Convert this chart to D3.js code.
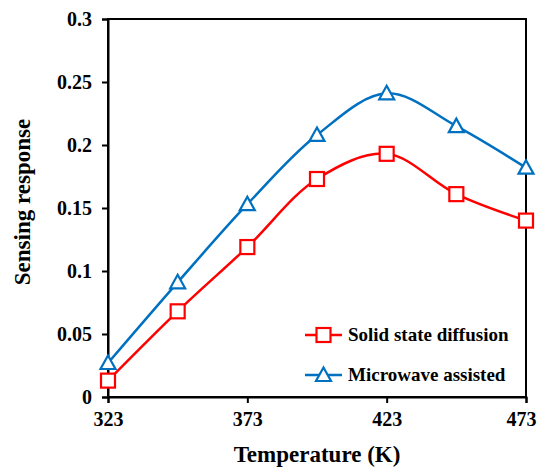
<!DOCTYPE html>
<html>
<head>
<meta charset="utf-8">
<script src="https://cdn.jsdelivr.net/npm/d3@7"></script>
<style>
body { margin: 0; background: #fff; }
</style>
</head>
<body>
<script>
// data
var temps = [323, 348, 373, 398, 423, 448, 473];
var solidState = [0.013, 0.068, 0.119, 0.173, 0.193, 0.161, 0.140];
var microwave = [0.027, 0.091, 0.153, 0.208, 0.241, 0.215, 0.182];
var xTicks = [323, 373, 423, 473];
var yTicks = [0, 0.05, 0.1, 0.15, 0.2, 0.25, 0.3];
var seriesNames = ["Solid state diffusion", "Microwave assisted"];

var w = 539, h = 467;
var margin = {top: 19, right: 12, bottom: 70, left: 108};
var serif = "'Liberation Serif', 'Times New Roman', serif";

var svg = d3.select("body").append("svg")
  .attr("width", w)
  .attr("height", h);

var x = d3.scaleLinear().domain([323, 473]).range([margin.left, w - margin.right - 1]);
var y = d3.scaleLinear().domain([0, 0.3]).range([h - margin.bottom, margin.top]);

// frame
svg.append("rect")
  .attr("x", x(323)).attr("y", y(0.3))
  .attr("width", x(473) - x(323)).attr("height", y(0) - y(0.3))
  .attr("fill", "none").attr("stroke", "#000").attr("stroke-width", 2);

// axes
var xAxis = svg.append("g")
  .attr("transform", "translate(0," + y(0) + ")")
  .call(d3.axisBottom(x).tickValues(xTicks).tickSize(6).tickPadding(9).tickFormat(d3.format("d")));
var yAxis = svg.append("g")
  .attr("transform", "translate(" + x(323) + ",0)")
  .call(d3.axisLeft(y).tickValues(yTicks).tickSize(6).tickPadding(10).tickFormat(function(d){ return d === 0 ? "0" : String(+d.toFixed(2)); }));

[xAxis, yAxis].forEach(function(a) {
  a.attr("font-family", null);
  a.select(".domain").attr("stroke", "#000").attr("stroke-width", 2);
  a.selectAll(".tick line").attr("stroke", "#000").attr("stroke-width", 2);
  a.selectAll(".tick text").attr("fill", "#000")
    .style("font-family", serif).style("font-weight", "bold").style("font-size", "20px");
});
// last x label is pulled in a little so it stays inside the picture
xAxis.selectAll(".tick text").filter(function(d){ return d === 473; }).attr("dx", -5);

// axis titles
svg.append("text")
  .attr("x", (x(323) + x(473)) / 2)
  .attr("y", 462)
  .attr("text-anchor", "middle")
  .style("font-family", serif).style("font-weight", "bold").style("font-size", "23px")
  .text("Temperature (K)");

svg.append("text")
  .attr("transform", "translate(30," + ((y(0) + y(0.3)) / 2 - 6) + ") rotate(-90)")
  .attr("text-anchor", "middle")
  .style("font-family", serif).style("font-weight", "bold").style("font-size", "23px")
  .text("Sensing response");

var line = d3.line().curve(d3.curveCatmullRom)
  .x(function(d){ return x(d[0]); })
  .y(function(d){ return y(d[1]); });

var series = [
  {name: seriesNames[0], values: solidState, color: "#ff0000", marker: "square"},
  {name: seriesNames[1], values: microwave, color: "#0070c0", marker: "triangle"}
];

function drawMarker(g, type, color) {
  if (type === "square") {
    g.append("rect").attr("x", -7).attr("y", -7).attr("width", 14).attr("height", 14)
      .attr("fill", "#fff").attr("stroke", color).attr("stroke-width", 2.2);
  } else {
    g.append("path").attr("d", "M0,-7.5L7.5,6L-7.5,6Z")
      .attr("fill", "#fff").attr("stroke", color).attr("stroke-width", 2.2);
  }
}

series.forEach(function(s) {
  var pts = temps.map(function(t, i){ return [t, s.values[i]]; });
  svg.append("path").datum(pts)
    .attr("d", line)
    .attr("fill", "none")
    .attr("stroke", s.color)
    .attr("stroke-width", 2.5);
  svg.selectAll(null).data(pts).enter().append("g")
    .attr("transform", function(d){ return "translate(" + x(d[0]) + "," + y(d[1]) + ")"; })
    .each(function(){ drawMarker(d3.select(this), s.marker, s.color); });
});

// legend
var legend = svg.selectAll("g.legend").data(series).enter().append("g")
  .attr("class", "legend")
  .attr("transform", function(d, i){ return "translate(305," + (335 + i * 40) + ")"; });
legend.append("line").attr("x1", 0).attr("x2", 37).attr("y1", 0).attr("y2", 0)
  .attr("stroke", function(d){ return d.color; }).attr("stroke-width", 2.5);
legend.append("g").attr("transform", "translate(18.5,0)")
  .each(function(d){ drawMarker(d3.select(this), d.marker, d.color); });
legend.append("text").attr("x", 43).attr("y", 6)
  .style("font-family", serif).style("font-weight", "bold").style("font-size", "19px")
  .text(function(d){ return d.name; });
</script>
</body>
</html>
